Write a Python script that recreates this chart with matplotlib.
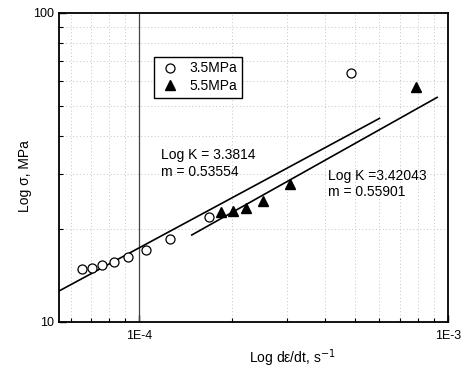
import matplotlib
matplotlib.use('Agg')
import matplotlib.pyplot as plt
from matplotlib.ticker import FixedLocator, LogLocator, NullFormatter

plt.rcParams['font.family'] = ['Liberation Sans', 'DejaVu Sans']

# 3.5 MPa 数据
rate_35 = [6.54e-5, 7.03e-5, 7.58e-5, 8.29e-5, 9.21e-5, 1.049e-4, 1.259e-4, 1.677e-4, 4.85e-4]
stress_35 = [14.78, 14.96, 15.26, 15.57, 16.2, 17.02, 18.52, 21.77, 63.7]

# 5.5 MPa 数据
rate_55 = [1.84e-4, 2.01e-4, 2.21e-4, 2.52e-4, 3.09e-4, 7.85e-4]
stress_55 = [22.7, 22.87, 23.33, 24.64, 27.97, 57.4]

# 拟合直线端点
fit1_x = [5.5e-5, 6.0e-4]
fit1_y = [12.57, 45.5]
fit2_x = [1.48e-4, 9.22e-4]
fit2_y = [19.08, 53.2]

fig = plt.figure(figsize=(4.66, 3.68), dpi=100)
ax = fig.add_axes([59 / 466, 1 - 321.7 / 368, 389 / 466, 309 / 368])

ax.set_xscale('log')
ax.set_yscale('log')
ax.set_xlim(5.5e-5, 1e-3)
ax.set_ylim(10, 100)

# 网格
ax.grid(which='minor', color='#c4c4c4', linestyle=(0, (1, 2.5)), linewidth=0.7)
ax.axvline(1e-4, color='#444444', linewidth=0.9)

ax.plot(fit1_x, fit1_y, color='black', linewidth=1.2)
ax.plot(fit2_x, fit2_y, color='black', linewidth=1.2)

ax.plot(rate_35, stress_35, linestyle='none', marker='o', ms=6.5,
        mfc='white', mec='black', mew=0.9, label='3.5MPa')
ax.plot(rate_55, stress_55, linestyle='none', marker='^', ms=7.5,
        mfc='black', mec='black', label='5.5MPa')

ax.xaxis.set_major_locator(FixedLocator([1e-4, 1e-3]))
ax.set_xticklabels(['1E-4', '1E-3'])
ax.xaxis.set_minor_locator(LogLocator(base=10, subs=range(2, 10)))
ax.xaxis.set_minor_formatter(NullFormatter())
ax.yaxis.set_major_locator(FixedLocator([10, 100]))
ax.set_yticklabels(['10', '100'])
ax.yaxis.set_minor_locator(LogLocator(base=10, subs=range(2, 10)))
ax.yaxis.set_minor_formatter(NullFormatter())

ax.tick_params(which='both', direction='in', top=False, right=False, labelsize=9)
ax.tick_params(which='major', length=5, width=1)
ax.tick_params(which='minor', length=3, width=0.8)
ax.tick_params(axis='x', pad=6)

for s in ax.spines.values():
    s.set_linewidth(1.3)

ax.text(0.261, 0.512, 'Log K = 3.3814\nm = 0.53554', transform=ax.transAxes,
        fontsize=10, va='center', ha='left', linespacing=1.2)
ax.text(0.692, 0.445, 'Log K =3.42043\nm = 0.55901', transform=ax.transAxes,
        fontsize=10, va='center', ha='left', linespacing=1.2)

ax.set_ylabel('Log σ, MPa', fontsize=10)
ax.yaxis.set_label_coords(-0.069, 0.47)
ax.set_xlabel('Log dε/dt, s$^{-1}$', fontsize=10)
ax.xaxis.set_label_coords(0.6, -0.082)

leg = ax.legend(loc='upper left', bbox_to_anchor=(0.244, 0.858), fontsize=10,
                frameon=True, fancybox=False, edgecolor='black', framealpha=1,
                borderaxespad=0, handletextpad=0.6, borderpad=0.35,
                labelspacing=0.25, handlelength=1.6)
leg.get_frame().set_linewidth(1.0)

fig.savefig('out.png', dpi=100)
